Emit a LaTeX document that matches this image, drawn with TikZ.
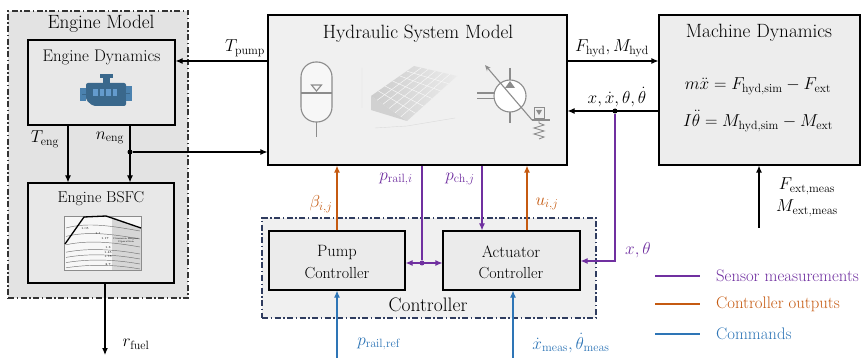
\documentclass[tikz,border=0pt]{standalone}
\usepackage{amsmath}
\usetikzlibrary{arrows.meta,calc}
\definecolor{sens}{RGB}{112,48,160}
\definecolor{ctrlout}{RGB}{197,90,17}
\definecolor{cmd}{RGB}{46,117,182}
\definecolor{navy}{RGB}{47,60,95}
\definecolor{engdark}{RGB}{58,104,140}
\definecolor{englight}{RGB}{75,130,175}
\definecolor{engwin}{RGB}{100,155,205}
\definecolor{symgray}{RGB}{140,140,140}
\tikzset{
  blk/.style={draw=black, line width=1.1pt, fill=black!7, inner sep=0pt},
  grp/.style={draw=black!80, line width=1.1pt, dash pattern=on 6pt off 2.5pt on 1.5pt off 2.5pt, inner sep=0pt},
  ttl/.style={font=\fontsize{19.2}{21}\selectfont, inner sep=0pt},
  sub/.style={font=\fontsize{16.4}{18}\selectfont, inner sep=0pt},
  lbl/.style={font=\fontsize{18.5}{20}\selectfont, inner sep=0pt},
  eqn/.style={font=\fontsize{18.3}{20}\selectfont, inner sep=0pt},
  leg/.style={font=\fontsize{16.7}{18}\selectfont, inner sep=0pt, anchor=west},
  arr/.style={line width=1.1pt, -{Latex[length=7pt,width=6pt]}},
  dbl/.style={line width=1.1pt, {Latex[length=7pt,width=6pt]}-{Latex[length=7pt,width=6pt]}},
  ln/.style={line width=1.1pt},
  dot/.style={circle, fill, inner sep=0pt, minimum size=5pt},
  sym/.style={draw=symgray, line width=1.1pt},
  tiny/.style={font=\fontsize{3}{3}\selectfont, inner sep=0pt},
}
\begin{document}
\begin{tikzpicture}[x=1pt,y=-1pt]
\useasboundingbox (0,0) rectangle (865,358);

% ---------- engine model group ----------
\node[grp, fill=black!11, minimum width=180pt, minimum height=287pt] (engmodel) at (98,154.5) {};
\node[ttl] (engmodelt) at (101,24) {Engine Model};
\node[blk, fill=black!9, minimum width=147pt, minimum height=85pt] (engdyn) at (101.5,82.5) {};
\node[font=\fontsize{16.8}{18}\selectfont, inner sep=0pt] (engdynt) at (101.5,57) {Engine Dynamics};
\node[blk, fill=black!9, minimum width=146pt, minimum height=100pt] (bsfc) at (101,233) {};
\node[font=\fontsize{15.8}{17}\selectfont, inner sep=0pt] (bsfct) at (101,199) {Engine BSFC};

% engine icon
\fill[engdark] (100,74) rectangle (113,78);
\fill[engdark] (103,77) rectangle (110,84);
\fill[engdark, rounded corners=2pt] (86,83) -- (126,83) -- (126,106) -- (93,106) -- (86,100) -- cycle;
\fill[englight] (80,88) rectangle (86,101);
\fill[englight] (126,86) rectangle (132,101);
\draw[engdark, line width=0.8pt] (82,94.5) -- (86,94.5) (126,93.5) -- (130,93.5);
\foreach \i in {0,1,2,3} \fill[engwin] ({93+6.5*\i},89) rectangle ({97.5+6.5*\i},96);

% BSFC map
\fill[black!3] (64,216) rectangle (141,270);
\fill[black!16] (112,217) -- (141,228) -- (141,270) -- (112,270) -- cycle;
\draw[black!45, line width=0.4pt] (64,216) rectangle (141,270);
\foreach \yy/\sh in {228/0, 236/2, 244/4, 251/6, 256/7, 261/8, 266/9}
  \draw[black!55, line width=0.45pt] (66,\yy+\sh*0.2) .. controls (88,\yy-6+\sh*0.5) and (112,\yy-2) .. (140,\yy+3);
\draw[black, line width=1.3pt] (65,244) -- (84,217) -- (106,216) -- (141,228);
\node[tiny] (m1) at (85,229) {1.05};
\node[tiny] (m2) at (98,234) {1.1};
\node[tiny] (m3) at (105,239) {1.17};
\node[tiny] (m4) at (108,248) {1.3};
\node[tiny] (m5) at (108,253) {1.45};
\node[tiny] (m6) at (108,257) {1.75};
\node[tiny] (m7) at (108,265) {2.7};
\node[font=\fontsize{2.6}{3}\selectfont, inner sep=0pt, align=center] (m8) at (126,240) {Common Engine\\Operation};

% ---------- hydraulic system ----------
\node[blk, fill=black!6, minimum width=299pt, minimum height=150pt] (hyd) at (417.5,90) {};
\node[ttl] (hydt) at (418,34) {Hydraulic System Model};

% accumulator symbol
\draw[sym, fill=black!3, rounded corners=15pt] (301,62) rectangle (332,122);
\draw[sym] (301,93) -- (332,93);
\draw[sym] (311.5,85) -- (321.5,85) -- (316.5,91) -- cycle;
\draw[sym] (316.5,122) -- (316.5,137);

% surface map
\coordinate (sA) at (371,96);
\coordinate (sB) at (414,66);
\coordinate (sC) at (457,76);
\coordinate (sD) at (407,121);
\fill[black!18] (sA) -- (371,110) -- (sD) -- cycle;
\shade[left color=black!20, right color=black!8] (sA) -- (sB) -- (sC) -- (sD) -- cycle;
\foreach \t in {0.17,0.33,0.5,0.67,0.83} {
  \draw[black!3, line width=0.5pt] ($(sA)!\t!(sB)$) -- ($(sD)!\t!(sC)$);
  \draw[black!3, line width=0.5pt] ($(sA)!\t!(sD)$) -- ($(sB)!\t!(sC)$);
}
\draw[black!15, line width=0.4pt] (362,68) -- (362,108) (375,128) -- (407,126) -- (455,118);

% variable pump symbol
\draw[sym] (510,68) -- (510,80) (510,112) -- (510,123);
\draw[sym] (477,93) -- (494,93) (477,98.5) -- (494,98.5);
\draw[sym, fill=white] (510,96) circle (16);
\fill[symgray] (505,88) -- (515,88) -- (510,81) -- cycle;
\draw[sym, -{Stealth[length=6pt,width=5pt]}] (532,120) -- (485,65);
\draw[sym] (532,120) -- (550,120);
\draw[sym, line width=0.9pt] (534,107) rectangle (544,118);
\fill[symgray] (536,110) -- (542,110) -- (539,115) -- cycle;
\draw[sym, line width=0.9pt] (539,120) -- (539,123) -- (544,125) -- (534,128) -- (544,131) -- (534,134) -- (544,137) -- (539,139);

% ---------- machine dynamics ----------
\node[blk, fill=black!7, minimum width=201pt, minimum height=150pt] (mach) at (759.5,90) {};
\node[ttl] (macht) at (759,33) {Machine Dynamics};
\node[eqn] (eq1) at (758,86) {$m\ddot{x} = F_{\mathrm{hyd,sim}} - F_{\mathrm{ext}}$};
\node[eqn] (eq2) at (758,121) {$I\ddot{\theta} = M_{\mathrm{hyd,sim}} - M_{\mathrm{ext}}$};

% ---------- controller group ----------
\node[grp, draw=navy, fill=black!6, minimum width=334pt, minimum height=100pt] (ctrl) at (429,268) {};
\node[font=\fontsize{19.5}{21}\selectfont, inner sep=0pt] (ctrlt) at (428,305) {Controller};
\node[blk, fill=black!8, minimum width=136pt, minimum height=59pt] (pumpc) at (337,260.5) {};
\node[blk, fill=black!8, minimum width=137pt, minimum height=59pt] (actc) at (511.5,260.5) {};
\node[sub] (pumpt1) at (337,252) {Pump};
\node[font=\fontsize{16}{18}\selectfont, inner sep=0pt] (pumpt2) at (337,273) {Controller};
\node[sub] (actt1) at (511,252) {Actuator};
\node[font=\fontsize{16}{18}\selectfont, inner sep=0pt] (actt2) at (511,273) {Controller};

% ---------- coordinates for connector ends ----------
\coordinate (yTp) at (0,61);
\coordinate (yFh) at (0,61);
\coordinate (yX) at (0,111);
\coordinate (xTe) at (68,0);
\coordinate (xNe) at (130,0);
\coordinate (xRf) at (105,0);
\coordinate (rfuelEnd) at (105,355);
\coordinate (xBeta) at (337,0);
\coordinate (xU) at (527,0);
\coordinate (xPr) at (422,0);
\coordinate (xPc) at (482,0);
\coordinate (yMid) at (0,263);
\coordinate (prefStart) at (337,358);
\coordinate (xmStart) at (513,358);
\coordinate (fextStart) at (759,228);
\node[dot] (ndot) at (130,152) {};
\node[dot] (xdot) at (615,111) {};
\node[dot, sens] (pdot) at (422,263) {};
\coordinate (xcorner) at (615,261);

% ---------- black signal connectors ----------
\draw[arr] (hyd.west |- yTp) -- (engdyn.east |- yTp);
\draw[arr] (engdyn.south -| xTe) -- (bsfc.north -| xTe);
\draw[arr] (engdyn.south -| xNe) -- (bsfc.north -| xNe);
\draw[arr] (ndot) -- (hyd.west |- ndot);
\draw[arr] (bsfc.south -| xRf) -- (rfuelEnd);
\draw[arr] (hyd.east |- yFh) -- (mach.west |- yFh);
\draw[arr] (mach.west |- yX) -- (hyd.east |- yX);
\draw[arr] (fextStart) -- (mach.south -| fextStart);

% ---------- sensor measurements ----------
\draw[ln, sens, -{Latex[length=7pt,width=6pt]}] (xdot) -- (xcorner) -- (actc.east |- xcorner);
\draw[ln, sens] (hyd.south -| xPr) -- (pdot);
\draw[dbl, sens] (pumpc.east |- yMid) -- (actc.west |- yMid);
\draw[arr, sens] (hyd.south -| xPc) -- (actc.north -| xPc);

% ---------- controller outputs ----------
\draw[arr, ctrlout] (pumpc.north -| xBeta) -- (hyd.south -| xBeta);
\draw[arr, ctrlout] (actc.north -| xU) -- (hyd.south -| xU);

% ---------- commands ----------
\draw[arr, cmd] (prefStart) -- (pumpc.south -| prefStart);
\draw[arr, cmd] (xmStart) -- (actc.south -| xmStart);

% ---------- labels ----------
\node[lbl] (lTp) at (245,48) {$T_{\mathrm{pump}}$};
\node[lbl] (lTe) at (45,139) {$T_{\mathrm{eng}}$};
\node[lbl] (lNe) at (110,138) {$n_{\mathrm{eng}}$};
\node[lbl] (lRf) at (136,344) {$r_{\mathrm{fuel}}$};
\node[lbl] (lFh) at (612,48) {$F_{\mathrm{hyd}}, M_{\mathrm{hyd}}$};
\node[lbl] (lX) at (617,97) {$x, \dot{x}, \theta, \dot{\theta}$};
\node[lbl] (lFe) at (807,186) {$F_{\mathrm{ext,meas}}$};
\node[lbl] (lMe) at (807,208) {$M_{\mathrm{ext,meas}}$};
\node[lbl, text=sens] (lXt) at (638,250) {$x, \theta$};
\node[lbl, text=ctrlout] (lB) at (321,204) {$\beta_{i,j}$};
\node[lbl, text=ctrlout] (lU) at (547,204) {$u_{i,j}$};
\node[lbl, text=sens] (lPr) at (396,179) {$p_{\mathrm{rail},i}$};
\node[lbl, text=sens] (lPc) at (460,179) {$p_{\mathrm{ch},j}$};
\node[lbl, text=cmd] (lPref) at (379,344) {$p_{\mathrm{rail,ref}}$};
\node[lbl, text=cmd] (lXm) at (571,343) {$\dot{x}_{\mathrm{meas}}, \dot{\theta}_{\mathrm{meas}}$};

% ---------- legend ----------
\coordinate (lg1a) at (655,276); \coordinate (lg1b) at (700,276);
\coordinate (lg2a) at (655,304); \coordinate (lg2b) at (700,304);
\coordinate (lg3a) at (655,334); \coordinate (lg3b) at (700,334);
\draw[ln, sens] (lg1a) -- (lg1b);
\draw[ln, ctrlout] (lg2a) -- (lg2b);
\draw[ln, cmd] (lg3a) -- (lg3b);
\node[leg, text=sens] (lt1) at (716,276) {Sensor measurements};
\node[leg, text=ctrlout] (lt2) at (716,304) {Controller outputs};
\node[leg, text=cmd] (lt3) at (716,334) {Commands};
\end{tikzpicture}
\end{document}
